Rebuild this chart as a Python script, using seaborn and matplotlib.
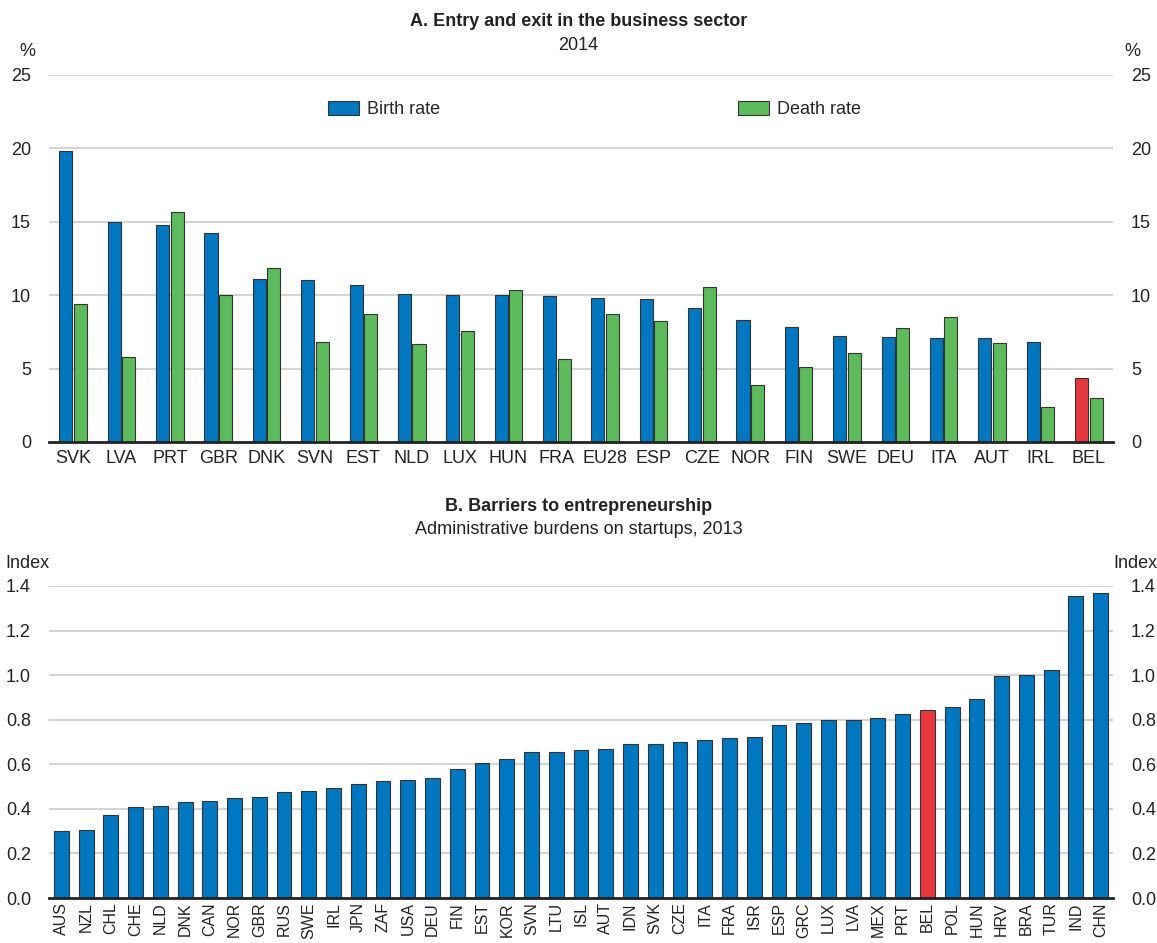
import numpy as np
import pandas as pd
import matplotlib
matplotlib.use("Agg")
import matplotlib.pyplot as plt
from matplotlib.ticker import FixedLocator
from matplotlib.patches import Patch
import seaborn as sns

# panel A: entry and exit, 2014
countries_a = ['SVK', 'LVA', 'PRT', 'GBR', 'DNK', 'SVN', 'EST', 'NLD', 'LUX', 'HUN', 'FRA',
               'EU28', 'ESP', 'CZE', 'NOR', 'FIN', 'SWE', 'DEU', 'ITA', 'AUT', 'IRL', 'BEL']
birth_rate = [19.8, 15.0, 14.75, 14.25, 11.1, 11.0, 10.7, 10.1, 10.0, 9.98, 9.92,
              9.78, 9.74, 9.1, 8.33, 7.84, 7.2, 7.16, 7.11, 7.11, 6.79, 4.33]
death_rate = [9.37, 5.82, 15.65, 10.03, 11.84, 6.79, 8.72, 6.66, 7.54, 10.35, 5.62,
              8.72, 8.22, 10.55, 3.87, 5.14, 6.07, 7.74, 8.54, 6.77, 2.38, 2.97]

# panel B: administrative burdens on startups, 2013
countries_b = ['AUS', 'NZL', 'CHL', 'CHE', 'NLD', 'DNK', 'CAN', 'NOR', 'GBR', 'RUS', 'SWE',
               'IRL', 'JPN', 'ZAF', 'USA', 'DEU', 'FIN', 'EST', 'KOR', 'SVN', 'LTU', 'ISL',
               'AUT', 'IDN', 'SVK', 'CZE', 'ITA', 'FRA', 'ISR', 'ESP', 'GRC', 'LUX', 'LVA',
               'MEX', 'PRT', 'BEL', 'POL', 'HUN', 'HRV', 'BRA', 'TUR', 'IND', 'CHN']
admin_burden = [0.302, 0.304, 0.372, 0.408, 0.415, 0.431, 0.436, 0.448, 0.451, 0.476, 0.481,
                0.494, 0.510, 0.524, 0.531, 0.537, 0.580, 0.607, 0.622, 0.655, 0.656, 0.665,
                0.670, 0.693, 0.693, 0.702, 0.711, 0.720, 0.723, 0.777, 0.787, 0.797, 0.797,
                0.806, 0.824, 0.842, 0.857, 0.893, 0.994, 1.001, 1.024, 1.354, 1.369]

BLUE = '#0077BE'
GREEN = '#5DBB5C'
RED = '#E8383F'
EDGE = '#333333'

sns.set_style('white')
plt.rcParams['font.family'] = ['Liberation Sans', 'DejaVu Sans']
plt.rcParams['font.size'] = 13

fig = plt.figure(figsize=(11.57, 9.43), dpi=100)
ax1 = fig.add_axes([0.04235, 0.5313, 0.9196, 0.3892])
ax2 = fig.add_axes([0.04235, 0.0477, 0.9196, 0.3309])

# ---- panel A
df_a = pd.DataFrame({'country': countries_a, 'Birth rate': birth_rate, 'Death rate': death_rate})
df_a = df_a.melt(id_vars='country', var_name='series', value_name='value')
sns.barplot(data=df_a, x='country', y='value', hue='series', order=countries_a,
            palette=[BLUE, GREEN], width=0.6, gap=0.1, saturation=1,
            edgecolor=EDGE, linewidth=0.8, legend=False, ax=ax1)
ax1.containers[0][countries_a.index('BEL')].set_facecolor(RED)
ax1.set_ylim(0, 25)
ax1.set_xlim(-0.5, len(countries_a) - 0.5)
ax1.set_yticks([0, 5, 10, 15, 20, 25])

handles = [Patch(facecolor=BLUE, edgecolor=EDGE, linewidth=0.8, label='Birth rate'),
           Patch(facecolor=GREEN, edgecolor=EDGE, linewidth=0.8, label='Death rate')]
ax1.legend(handles=handles, loc='center', bbox_to_anchor=(0.513, 0.905), ncol=2,
           frameon=False, fontsize=13, handlelength=1.7, handleheight=0.8,
           handletextpad=0.45, columnspacing=16.5)

# ---- panel B
df_b = pd.DataFrame({'country': countries_b, 'value': admin_burden})
pal_b = {c: (RED if c == 'BEL' else BLUE) for c in countries_b}
sns.barplot(data=df_b, x='country', y='value', hue='country', order=countries_b,
            palette=pal_b, width=0.6, saturation=1, edgecolor=EDGE, linewidth=0.8,
            legend=False, ax=ax2)
ax2.set_ylim(0, 1.4)
ax2.set_xlim(-0.5, len(countries_b) - 0.5)
ax2.set_yticks(np.arange(0, 1.41, 0.2))
ax2.set_yticklabels([f'{v:.1f}' for v in np.arange(0, 1.41, 0.2)])

for ax, n in [(ax1, len(countries_a)), (ax2, len(countries_b))]:
    ax.set_xlabel('')
    ax.set_ylabel('')
    for s in ['left', 'right', 'top']:
        ax.spines[s].set_visible(False)
    ax.spines['bottom'].set_color('#222222')
    ax.spines['bottom'].set_linewidth(2)
    ax.spines['bottom'].set_zorder(5)
    ax.yaxis.grid(True, color='#d4d4d4', linewidth=1.5)
    ax.set_axisbelow(True)
    ax.tick_params(axis='y', length=0, pad=13, labelsize=13, labelleft=True,
                   labelright=True, colors='#222222')
    ax.tick_params(axis='x', which='major', length=0, pad=6, labelsize=13, colors='#222222')
    ax.xaxis.set_minor_locator(FixedLocator(np.arange(-0.5, n, 1.0)))
    ax.tick_params(axis='x', which='minor', direction='in', length=5, width=1.2,
                   color='#222222')
    # hide the gridline at zero (baseline covers it)
    ax.get_ygridlines()[0].set_visible(False)

# rotated country codes in panel B
ax2.tick_params(axis='x', which='major', pad=3, labelsize=11.5)
for lbl in ax2.get_xticklabels():
    lbl.set_rotation(90)
    lbl.set_va('top')
    lbl.set_ha('center')

# titles and unit labels
fig.text(0.5, 0.9767, 'A. Entry and exit in the business sector', ha='center', va='center',
         fontsize=13, fontweight='bold', color='#222222')
fig.text(0.5, 0.952, '2014', ha='center', va='center', fontsize=13, color='#222222')
fig.text(0.5, 0.4624, 'B. Barriers to entrepreneurship', ha='center', va='center',
         fontsize=13, fontweight='bold', color='#222222')
fig.text(0.5, 0.438, 'Administrative burdens on startups, 2013', ha='center', va='center',
         fontsize=13, color='#222222')
fig.text(0.024, 0.945, '%', ha='center', va='center', fontsize=13, color='#222222')
fig.text(0.979, 0.945, '%', ha='center', va='center', fontsize=13, color='#222222')
fig.text(0.0235, 0.402, 'Index', ha='center', va='center', fontsize=13, color='#222222')
fig.text(0.981, 0.402, 'Index', ha='center', va='center', fontsize=13, color='#222222')

fig.savefig('out.png', dpi=100)
